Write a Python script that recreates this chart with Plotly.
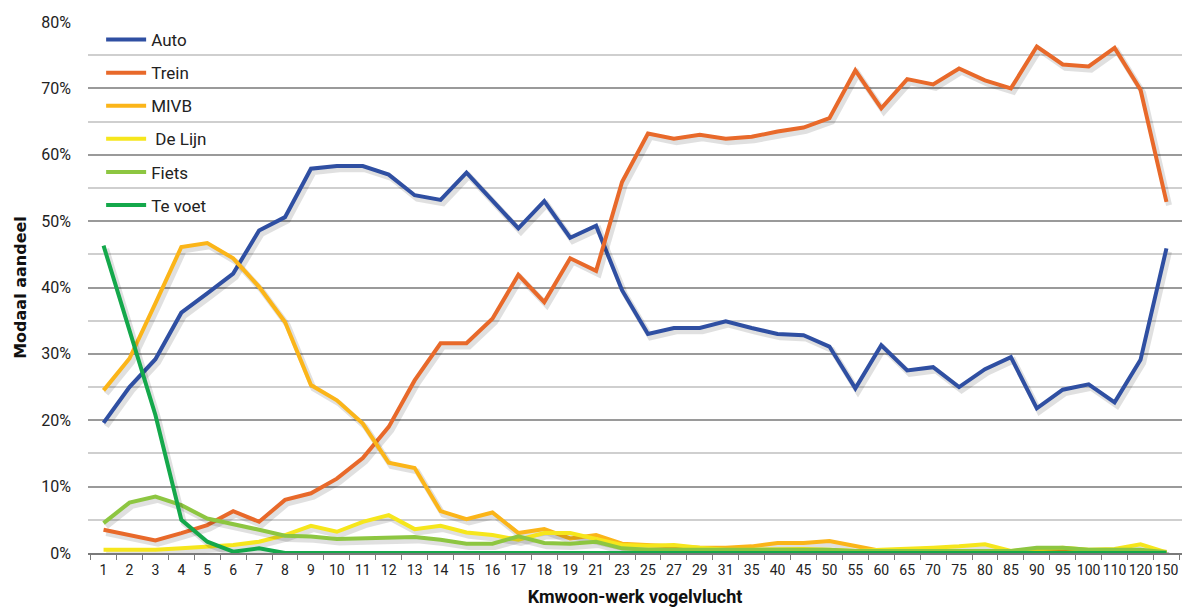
import plotly.graph_objects as go

# Distance classes (km, home-work, as the crow flies)
categories = ["1", "2", "3", "4", "5", "6", "7", "8", "9", "10", "11", "12", "13", "14",
              "15", "16", "17", "18", "19", "21", "23", "25", "27", "29", "31", "35",
              "40", "45", "50", "55", "60", "65", "70", "75", "80", "85", "90", "95",
              "100", "110", "120", "150"]

# Modal share per transport mode (%)
auto = [19.6, 25.0, 29.2, 36.2, 39.1, 42.1, 48.6, 50.6, 57.9, 58.3, 58.3, 57.0, 53.9, 53.2,
        57.3, 53.0, 48.9, 53.0, 47.5, 49.3, 39.6, 33.0, 33.9, 33.9, 34.9, 33.9, 33.0, 32.8,
        31.1, 24.8, 31.3, 27.5, 28.0, 25.0, 27.7, 29.5, 21.8, 24.6, 25.4, 22.7, 29.1, 45.9]
trein = [3.5, 2.7, 1.9, 3.0, 4.2, 6.3, 4.7, 8.0, 9.0, 11.2, 14.3, 19.0, 26.0, 31.6,
         31.6, 35.3, 41.9, 37.8, 44.4, 42.5, 55.9, 63.2, 62.4, 63.0, 62.4, 62.7, 63.5, 64.1,
         65.5, 72.7, 67.0, 71.4, 70.6, 73.0, 71.2, 70.0, 76.3, 73.6, 73.3, 76.1, 69.8, 52.9]
mivb = [24.5, 29.3, 37.6, 46.1, 46.7, 44.4, 40.1, 34.8, 25.3, 23.0, 19.5, 13.6, 12.8, 6.3,
        5.1, 6.1, 3.0, 3.6, 2.2, 2.7, 1.4, 1.2, 1.0, 0.8, 0.8, 1.0, 1.5, 1.5,
        1.8, 1.0, 0.3, 0.3, 0.3, 0.3, 0.3, 0.3, 0.3, 0.3, 0.3, 0.3, 0.3, 0.2]
de_lijn = [0.5, 0.5, 0.5, 0.7, 1.0, 1.2, 1.7, 2.7, 4.1, 3.2, 4.7, 5.7, 3.6, 4.1,
           3.1, 2.7, 2.0, 3.0, 3.0, 2.1, 1.2, 1.1, 1.2, 0.8, 0.5, 0.5, 0.6, 0.6,
           0.5, 0.3, 0.5, 0.6, 0.8, 1.0, 1.3, 0.3, 0.6, 0.8, 0.5, 0.6, 1.3, 0.1]
fiets = [4.5, 7.6, 8.5, 7.2, 5.2, 4.4, 3.5, 2.6, 2.5, 2.1, 2.2, 2.3, 2.4, 2.0,
         1.4, 1.4, 2.5, 1.5, 1.4, 1.7, 0.7, 0.5, 0.5, 0.5, 0.5, 0.5, 0.5, 0.5,
         0.5, 0.3, 0.3, 0.3, 0.3, 0.3, 0.3, 0.3, 0.8, 0.8, 0.5, 0.5, 0.5, 0.1]
te_voet = [46.3, 33.5, 20.8, 5.0, 1.7, 0.2, 0.7, 0, 0, 0, 0, 0, 0, 0,
           0, 0, 0, 0, 0, 0, 0, 0, 0, 0, 0, 0, 0, 0,
           0, 0, 0, 0, 0, 0, 0, 0, 0, 0, 0, 0, 0, 0]

series = [
    ("Auto", auto, "#2f4fa2"),
    ("Trein", trein, "#e8692a"),
    ("MIVB", mivb, "#fbb519"),
    ("De Lijn", de_lijn, "#f6e61c"),
    ("Fiets", fiets, "#8dc641"),
    ("Te voet", te_voet, "#14a84b"),
]

x = list(range(len(categories)))
label_font = "Roboto, Liberation Sans Narrow, sans-serif"

fig = go.Figure()
for name, values, color in series:
    # soft drop shadow under each line
    fig.add_trace(go.Scatter(
        x=[v + 0.1 for v in x], y=[v - 0.5 for v in values], mode="lines",
        line=dict(color="rgba(0,0,0,0.12)", width=6), hoverinfo="skip",
        showlegend=False, cliponaxis=False))
    fig.add_trace(go.Scatter(
        x=x, y=values, mode="lines", name=" " + name if name == "De Lijn" else name,
        line=dict(color=color, width=4), legendgroup=name, cliponaxis=False))

fig.update_layout(
    width=1192, height=608,
    margin=dict(l=88, r=10, t=22, b=55),
    paper_bgcolor="white", plot_bgcolor="white",
    font=dict(family=label_font, size=15, color="#222222"),
    legend=dict(x=0.012, y=1.0, xanchor="left", yanchor="top",
                bgcolor="rgba(0,0,0,0)", font=dict(size=17, family=label_font),
                tracegroupgap=8, itemwidth=40),
    xaxis=dict(
        range=[-0.6, 41.6], tickmode="array", tickvals=x, ticktext=categories,
        ticks="", showgrid=False, zeroline=False, tickangle=0, automargin=False,
        showline=True, linecolor="#7a7a7a", linewidth=1.5,
        tickfont=dict(size=14), ticklabelstandoff=3,
        minor=dict(tickvals=[v - 0.5 for v in range(len(categories) + 1)],
                   ticks="outside", ticklen=5, tickcolor="#7a7a7a", showgrid=False),
        title=dict(text="<b>Kmwoon-werk vogelvlucht</b>",
                   font=dict(size=18, family=label_font, color="#111111"), standoff=14),
    ),
    yaxis=dict(
        range=[0, 80], tickvals=[0, 10, 20, 30, 40, 50, 60, 70, 80],
        ticktext=["0%", "10%", "20%", "30%", "40%", "50%", "60%", "70%", "80%"],
        showgrid=True, gridcolor="#9a9a9a", gridwidth=1.6, zeroline=False,
        showline=False, ticks="", tickfont=dict(size=16), ticklabelstandoff=16,
        automargin=False,
        minor=dict(dtick=5, showgrid=True, gridcolor="#cfcfcf", gridwidth=1.6),
        title=dict(text="<b>Modaal aandeel</b>",
                   font=dict(size=16, family="DejaVu Sans, sans-serif", color="#111111"),
                   standoff=10),
    ),
)

fig.write_html("out.html")
